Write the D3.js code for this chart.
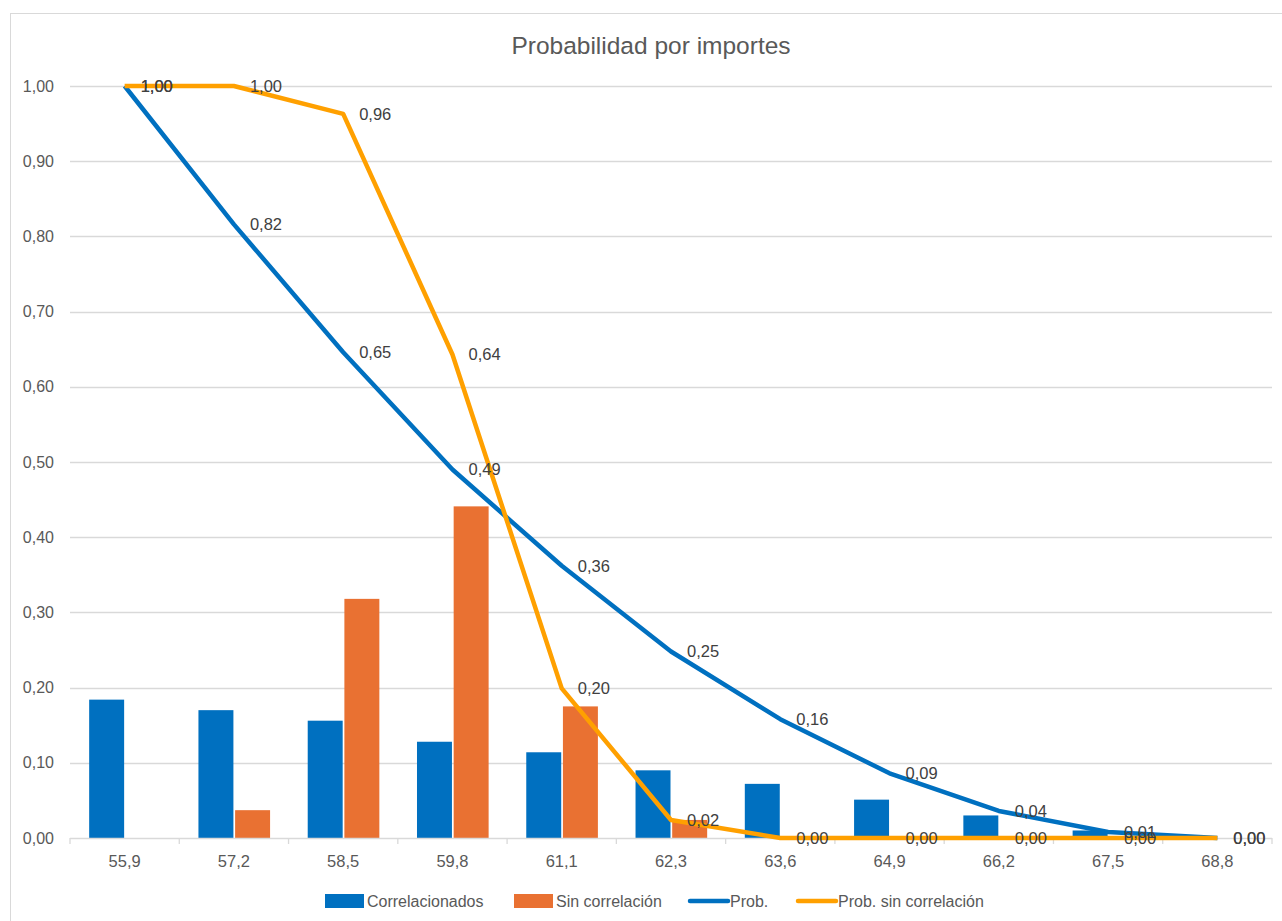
<!DOCTYPE html>
<html>
<head>
<meta charset="utf-8">
<script src="https://cdn.jsdelivr.net/npm/d3@7"></script>
<style>
  body { margin: 0; background: #fff; }
  svg { display: block; }
</style>
</head>
<body>
<div id="chart"></div>
<script>
// chart values
var categories = ["55,9", "57,2", "58,5", "59,8", "61,1", "62,3", "63,6", "64,9", "66,2", "67,5", "68,8"];
var correlacionados = [0.184, 0.170, 0.156, 0.128, 0.114, 0.090, 0.072, 0.051, 0.030, 0.010, 0.000];
var sinCorrelacion = [0.000, 0.037, 0.318, 0.441, 0.175, 0.024, 0.000, 0.000, 0.000, 0.000, 0.000];
var prob = [1.000, 0.816, 0.646, 0.490, 0.362, 0.248, 0.158, 0.086, 0.036, 0.008, 0.000];
var probSinCorrelacion = [1.000, 1.000, 0.963, 0.643, 0.199, 0.024, 0.000, 0.000, 0.000, 0.000, 0.000];
var yTicks = [0, 0.1, 0.2, 0.3, 0.4, 0.5, 0.6, 0.7, 0.8, 0.9, 1.0];

var W = 1282, H = 921;
var plotLeft = 70, plotRight = 1272, plotTop = 86, plotBottom = 838;
var font = "'Liberation Sans', Arial, sans-serif";
var textColor = "#595959";

var fmt = function(v) { return d3.format(".2f")(v).replace(".", ","); };

var svg = d3.select("#chart").append("svg").attr("width", W).attr("height", H);

// chart frame
svg.append("rect")
  .attr("x", 10.5).attr("y", 13.5)
  .attr("width", 1290).attr("height", 930)
  .style("fill", "#fff").style("stroke", "#D9D9D9");

var x = d3.scaleBand().domain(categories).range([plotLeft, plotRight]);
var y = d3.scaleLinear().domain([0, 1]).range([plotBottom, plotTop]);
var bw = x.bandwidth();
var cx = function(i) { return x(categories[i]) + bw / 2; };

// title
svg.append("text")
  .attr("x", 651).attr("y", 54)
  .attr("text-anchor", "middle")
  .style("font-family", font).style("font-size", "24.5px")
  .style("fill", textColor)
  .text("Probabilidad por importes");

// gridlines
svg.append("g").selectAll("line")
  .data(yTicks.slice(1)).join("line")
  .attr("x1", plotLeft).attr("x2", plotRight)
  .attr("y1", function(d) { return Math.round(y(d)) + 0.5; })
  .attr("y2", function(d) { return Math.round(y(d)) + 0.5; })
  .style("stroke", "#D9D9D9").style("stroke-width", 1.3);

// y axis labels
var yAxis = d3.axisLeft(y).tickValues(yTicks).tickFormat(fmt).tickSize(0).tickPadding(0);
var gy = svg.append("g").attr("transform", "translate(54,0)").call(yAxis);
gy.select(".domain").remove();
gy.selectAll("text")
  .style("font-family", font).style("font-size", "16px").style("fill", textColor);

// bars
var barW = bw * 0.32;
svg.append("g").selectAll("rect")
  .data(correlacionados).join("rect")
  .attr("x", function(d, i) { return cx(i) - barW - 0.5; })
  .attr("y", function(d) { return y(d); })
  .attr("width", barW)
  .attr("height", function(d) { return plotBottom - y(d); })
  .style("fill", "#0070C0");

svg.append("g").selectAll("rect")
  .data(sinCorrelacion).join("rect")
  .attr("x", function(d, i) { return cx(i) + 1.2; })
  .attr("y", function(d) { return y(d); })
  .attr("width", barW)
  .attr("height", function(d) { return plotBottom - y(d); })
  .style("fill", "#E97132");

// x axis
var xAxis = d3.axisBottom(x).tickSize(0).tickPadding(17);
var gx = svg.append("g").attr("transform", "translate(0," + plotBottom + ")").call(xAxis);
gx.select(".domain").remove();
gx.selectAll("text")
  .style("font-family", font).style("font-size", "16.5px").style("fill", textColor);
gx.append("line")
  .attr("x1", plotLeft).attr("x2", plotRight).attr("y1", 0.5).attr("y2", 0.5)
  .style("stroke", "#D9D9D9").style("stroke-width", 1.3);
gx.selectAll(".cat-tick")
  .data(categories.concat([null])).join("line")
  .attr("class", "cat-tick")
  .attr("x1", function(d, i) { return plotLeft + i * bw; })
  .attr("x2", function(d, i) { return plotLeft + i * bw; })
  .attr("y1", 0).attr("y2", 6)
  .style("stroke", "#D9D9D9").style("stroke-width", 1.3);

// lines
var line = d3.line()
  .x(function(d, i) { return cx(i); })
  .y(function(d) { return y(d); });

svg.append("path").datum(prob)
  .attr("d", line)
  .style("fill", "none").style("stroke", "#0070C0")
  .style("stroke-width", 4.5).style("stroke-linejoin", "round");

svg.append("path").datum(probSinCorrelacion)
  .attr("d", line)
  .style("fill", "none").style("stroke", "#FFA000")
  .style("stroke-width", 4.5).style("stroke-linejoin", "round");

// data labels
function labels(data) {
  svg.append("g").selectAll("text")
    .data(data).join("text")
    .attr("x", function(d, i) { return cx(i) + 16; })
    .attr("y", function(d) { return y(d); })
    .attr("dy", "0.36em")
    .style("font-family", font).style("font-size", "16.5px")
    .style("fill", "#404040")
    .text(fmt);
}
labels(prob);
labels(probSinCorrelacion);

// legend
var legend = [
  { name: "Correlacionados", color: "#0070C0", type: "bar", x: 325 },
  { name: "Sin correlación", color: "#E97132", type: "bar", x: 514 },
  { name: "Prob.", color: "#0070C0", type: "line", x: 688 },
  { name: "Prob. sin correlación", color: "#FFA000", type: "line", x: 796 }
];
var lg = svg.append("g").selectAll("g").data(legend).join("g")
  .attr("transform", function(d) { return "translate(" + d.x + ",901)"; });
lg.filter(function(d) { return d.type === "bar"; }).append("rect")
  .attr("x", 0).attr("y", -7).attr("width", 39).attr("height", 14)
  .style("fill", function(d) { return d.color; });
lg.filter(function(d) { return d.type === "line"; }).append("line")
  .attr("x1", 2).attr("x2", 40).attr("y1", 0).attr("y2", 0)
  .style("stroke", function(d) { return d.color; })
  .style("stroke-width", 4.5).style("stroke-linecap", "round");
lg.append("text")
  .attr("x", 42).attr("dy", "0.36em")
  .style("font-family", font)
  .style("font-size", "16px").style("fill", textColor)
  .text(function(d) { return d.name; });
</script>
</body>
</html>
